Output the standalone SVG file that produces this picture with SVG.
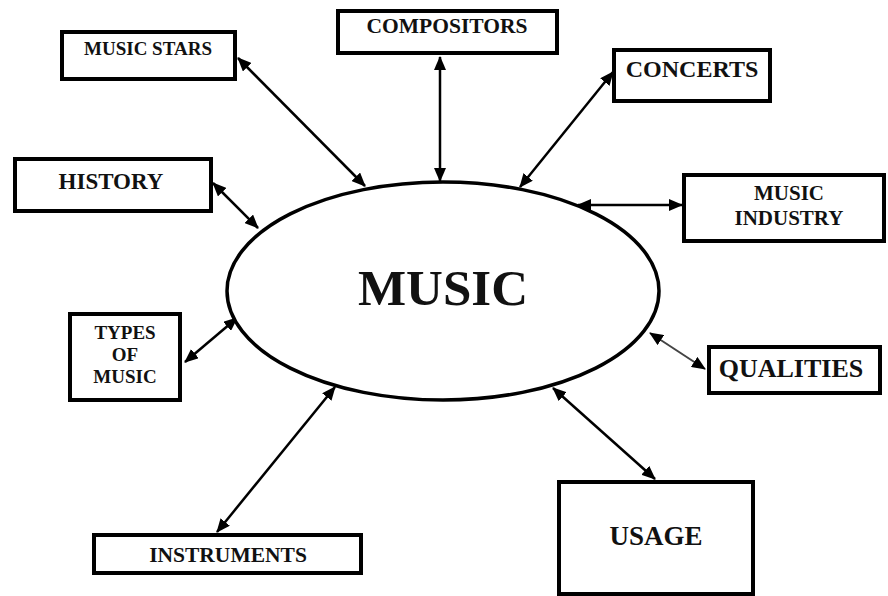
<svg xmlns="http://www.w3.org/2000/svg" width="888" height="596" viewBox="0 0 888 596">
<style>
.box{fill:#fff;stroke:#000;stroke-width:4}
.t{font-family:"Liberation Serif","Times New Roman",serif;font-weight:bold;fill:#111;text-anchor:middle}
.c{stroke:#000;stroke-width:2.5;fill:none;marker-start:url(#ah);marker-end:url(#ah)}
</style>
<defs>
<marker id="ah" markerUnits="userSpaceOnUse" markerWidth="14" markerHeight="12" refX="13" refY="6" orient="auto-start-reverse" viewBox="0 0 14 12">
<path d="M0,0 L14,6 L0,12 z" fill="#000"/>
</marker>
</defs>
<rect width="888" height="596" fill="#fff"/>
<g id="connectors">
<line class="c" x1="365" y1="186" x2="238" y2="58"/>
<line class="c" x1="440" y1="181" x2="440" y2="57"/>
<line class="c" x1="520" y1="187" x2="613" y2="72"/>
<line class="c" x1="578" y1="205" x2="682" y2="205"/>
<line class="c" x1="258" y1="228" x2="213" y2="183"/>
<line class="c" x1="237" y1="318" x2="185" y2="362"/>
<line class="c" x1="650" y1="333" x2="705" y2="369" style="stroke:#444;stroke-width:2"/>
<line class="c" x1="335" y1="387" x2="217" y2="532"/>
<line class="c" x1="553" y1="388" x2="655" y2="479"/>
</g>
<g id="music">
<ellipse cx="443" cy="291" rx="216" ry="109" fill="#fff" stroke="#000" stroke-width="3.5"/>
<text class="t" x="443" y="305" font-size="51">MUSIC</text>
</g>
<g id="music-stars">
<rect class="box" x="62" y="32" width="173" height="47"/>
<text class="t" x="148" y="55" font-size="19">MUSIC STARS</text>
</g>
<g id="compositors">
<rect class="box" x="338" y="11" width="219" height="42"/>
<text class="t" x="447" y="33" font-size="21.5">COMPOSITORS</text>
</g>
<g id="concerts">
<rect class="box" x="614" y="50" width="156" height="51"/>
<text class="t" x="692" y="77" font-size="24">CONCERTS</text>
</g>
<g id="music-industry">
<rect class="box" x="684" y="175" width="200" height="66"/>
<text class="t" x="789" y="200" font-size="21">MUSIC</text>
<text class="t" x="789" y="225" font-size="21">INDUSTRY</text>
</g>
<g id="history">
<rect class="box" x="15" y="159" width="196" height="52"/>
<text class="t" x="111" y="189" font-size="23">HISTORY</text>
</g>
<g id="types-of-music">
<rect class="box" x="70" y="314" width="110" height="86"/>
<text class="t" x="125" y="339" font-size="19">TYPES</text>
<text class="t" x="125" y="361" font-size="19">OF</text>
<text class="t" x="125" y="383" font-size="19">MUSIC</text>
</g>
<g id="qualities">
<rect class="box" x="709" y="347" width="171" height="46"/>
<text class="t" x="791" y="377" font-size="26">QUALITIES</text>
</g>
<g id="instruments">
<rect class="box" x="94" y="535" width="267" height="38"/>
<text class="t" x="228" y="562" font-size="21.5">INSTRUMENTS</text>
</g>
<g id="usage">
<rect class="box" x="559" y="482" width="194" height="112"/>
<text class="t" x="656" y="545" font-size="27">USAGE</text>
</g>
</svg>
